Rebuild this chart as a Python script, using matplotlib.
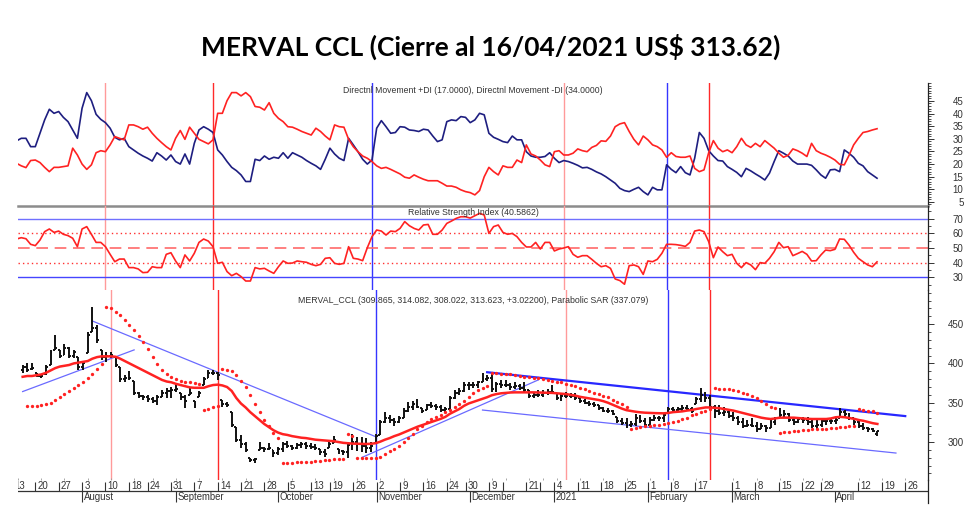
import numpy as np
import pandas as pd
import matplotlib
matplotlib.use("Agg")
import matplotlib.pyplot as plt
import matplotlib.transforms as mtrans
from matplotlib.collections import LineCollection
from matplotlib.ticker import MultipleLocator, FixedLocator

# ---------------- calendar (Argentine market trading days) ----------------
holidays = ["2020-08-17", "2020-10-12", "2020-11-23", "2020-12-07", "2020-12-08",
            "2020-12-24", "2020-12-25", "2020-12-31", "2021-01-01", "2021-02-15",
            "2021-02-16", "2021-03-24", "2021-04-01", "2021-04-02"]
trading_days = pd.bdate_range("2020-07-13", "2021-05-14", freq="C", holidays=holidays)
def day(d):
    return trading_days.get_loc(pd.Timestamp(d))

first_date = "2020-07-14"

# ---------------- price data (daily OHLC) ----------------
opens = [392, 395, 393, 388, 384, 386, 398, 417, 417, 411, 420, 410, 408, 395, 413, 440, 445, 417, 408, 410,
         408, 395, 380, 382, 378, 362, 358, 357, 355, 352, 357, 362, 365, 366, 362, 357, 360, 352, 357, 373,
         381, 388, 388, 353, 348, 338, 319, 303, 297, 280, 277, 290, 293, 291, 290, 286, 291, 297, 295, 293,
         296, 297, 295, 294, 291, 287, 292, 299, 291, 288, 287, 296, 300, 297, 295, 292, 299, 309, 325, 330,
         328, 326, 331, 340, 344, 349, 343, 341, 347, 346, 344, 341, 342, 356, 362, 365, 372, 372, 372, 376,
         380, 382, 368, 374, 373, 372, 370, 371, 369, 366, 359, 360, 360, 362, 364, 362, 356, 358, 359, 358,
         356, 352, 350, 348, 347, 343, 340, 339, 332, 327, 324, 322, 323, 330, 327, 322, 328, 330, 330, 337,
         342, 341, 342, 343, 342, 348, 355, 360, 356, 345, 340, 337, 338, 333, 331, 326, 321, 322, 321, 317,
         320, 318, 326, 330, 335, 336, 328, 326, 329, 328, 325, 321, 322, 327, 327, 327, 330, 338, 336, 330,
         325, 320, 318, 316, 309.865]
highs = [398, 400, 400, 388, 385, 398, 417, 436, 417, 425, 421, 417, 408, 402, 440, 472, 449, 417, 414, 414,
         408, 395, 385, 390, 378, 364, 360, 360, 357, 360, 366, 369, 370, 375, 362, 360, 369, 352, 365, 383,
         392, 392, 389, 353, 351, 338, 319, 309, 300, 280, 280, 300, 294, 299, 290, 294, 300, 301, 296, 299,
         300, 300, 299, 297, 291, 291, 300, 308, 291, 290, 300, 310, 306, 306, 305, 300, 310, 328, 338, 334,
         330, 333, 343, 351, 352, 355, 343, 349, 351, 349, 347, 345, 358, 366, 369, 376, 376, 376, 378, 388,
         385, 387, 376, 379, 379, 375, 376, 374, 376, 366, 364, 366, 366, 367, 373, 362, 361, 364, 362, 362,
         357, 355, 352, 351, 347, 345, 343, 341, 332, 330, 330, 327, 336, 334, 330, 332, 334, 333, 337, 345,
         345, 345, 347, 347, 345, 357, 369, 364, 360, 347, 347, 345, 341, 338, 333, 330, 328, 330, 325, 324,
         322, 328, 332, 343, 341, 337, 330, 332, 332, 332, 329, 328, 330, 330, 330, 330, 343, 341, 337, 330,
         327, 324, 319, 318, 314.082]
lows = [388, 389, 392, 383, 381, 385, 398, 417, 407, 411, 407, 407, 392, 392, 413, 440, 426, 404, 402, 407,
        395, 376, 376, 379, 360, 356, 353, 351, 350, 347, 357, 356, 356, 364, 353, 343, 360, 343, 357, 373,
        381, 385, 379, 345, 345, 319, 300, 292, 287, 275, 273, 290, 287, 290, 281, 283, 287, 292, 290, 291,
        292, 291, 291, 290, 283, 281, 292, 299, 285, 283, 280, 290, 289, 287, 286, 287, 299, 309, 324, 324,
        320, 324, 330, 338, 341, 343, 337, 341, 343, 341, 338, 337, 342, 355, 360, 364, 366, 369, 369, 376,
        378, 364, 364, 369, 370, 366, 367, 366, 364, 356, 356, 357, 357, 360, 362, 353, 352, 356, 356, 353,
        350, 348, 346, 345, 341, 338, 337, 334, 324, 322, 318, 319, 320, 324, 319, 322, 327, 327, 325, 337,
        338, 338, 339, 339, 337, 348, 351, 351, 343, 330, 334, 333, 330, 327, 322, 318, 319, 319, 313, 317,
        313, 318, 322, 330, 330, 325, 322, 324, 324, 322, 318, 317, 319, 322, 323, 323, 330, 332, 328, 322,
        318, 315, 313, 313, 308.022]
closes = [395, 392, 394, 384, 384, 396, 414, 420, 410, 420, 410, 414, 395, 400, 436, 445, 430, 408, 410, 411,
          398, 380, 382, 381, 362, 358, 357, 355, 352, 357, 362, 365, 366, 367, 357, 352, 362, 347, 363, 380,
          388, 388, 385, 348, 347, 322, 303, 297, 290, 277, 278, 293, 291, 293, 286, 291, 297, 295, 293, 296,
          297, 295, 294, 292, 287, 285, 297, 302, 288, 287, 296, 300, 297, 295, 292, 295, 308, 325, 330, 328,
          326, 331, 340, 344, 349, 345, 340, 347, 346, 344, 341, 342, 356, 362, 365, 372, 372, 372, 376, 380,
          382, 368, 374, 373, 372, 370, 371, 369, 366, 359, 360, 360, 362, 364, 364, 356, 358, 359, 358, 356,
          352, 350, 348, 347, 343, 340, 339, 336, 327, 324, 322, 323, 330, 327, 322, 328, 330, 330, 335, 342,
          341, 342, 343, 342, 340, 355, 360, 356, 345, 340, 337, 338, 333, 331, 326, 321, 322, 321, 316, 320,
          318, 326, 330, 335, 336, 328, 326, 329, 328, 325, 321, 322, 327, 327, 327, 328, 338, 336, 331, 325,
          320, 318, 316, 314, 313.623]
moving_avg = [383, 384, 384, 385, 386, 388, 391, 394, 396, 397, 398, 400, 401, 402, 403, 406, 408, 409, 409, 409,
              408.5, 406, 403, 400, 397, 394, 391, 388, 385, 382, 379, 377, 376, 374, 372.5, 371, 369.5, 369, 369, 369,
              371, 372.5, 373, 372, 370, 365, 356, 349, 344, 338, 333, 328, 323, 319, 315, 312, 310, 309, 307.5, 306.5,
              305.5, 305, 304, 303, 302.5, 302, 301.5, 301, 300, 299, 298.5, 298, 297.8, 297.5, 297.5, 297.8, 298.5, 300.5, 303, 305,
              307.5, 309.5, 312, 314.5, 317, 319.5, 321.5, 323.5, 325.5, 327.5, 329.5, 332, 336, 339, 342, 346, 349, 351, 353, 355,
              357, 359.5, 361, 362, 362.5, 363, 363.2, 363.2, 363.2, 363.2, 363.2, 363, 362.8, 362.7, 362.5, 362, 361.5, 361, 360, 359,
              357.5, 356.5, 355.5, 354.5, 353.5, 352, 350, 347.5, 345, 342.5, 340.5, 339.5, 338.5, 337.8, 337.3, 337, 336.8, 336.6, 336.5, 337,
              338, 338.5, 339, 340, 340.7, 342, 343, 344, 344, 343.5, 343, 342, 341, 340, 338.5, 337, 335.5, 334, 332.5, 331,
              330, 329.3, 330, 331, 331, 331, 331, 330.5, 330, 329.5, 329.3, 329.3, 329.3, 329.3, 330, 331.5, 332, 331.5, 330.5, 329.5,
              328, 327, 325.5, 324, 323]
nan = float("nan")
par_sar = [nan, 346, 346, 346, 347, 348, 350, 353, 357, 361, 365, 369, 373, 377, 381, 386, 393, 399, 472, 470,
           466, 461, 455, 449, 442, 435, 427, 418, 408, 399, 392, 387, 383, 380, 378, 377, 376, 375, 374, 341,
           342, 344, 346, 393, 392, 390, 385, 378, 370, 360, 348, 338, 328, 320, 312, 305, 273, 273, 273, 274,
           274, 275, 275, 276, 276, 277, 277, 278, 278, 279, 310, 308, 280, 280, 280, 280, 280, 281, 285, 288,
           291, 295, 300, 305, 310, 316, 321, 326, 329, 332, 335, 338, 341, 344, 348, 352, 357, 362, 366, 369,
           371, 388, 388, 387, 386, 386, 385, 384, 383, 383, 382, 381, 380, 379, 378, 377, 376, 374, 373, 371,
           369, 367, 365, 363, 361, 359, 357, 354, 351, 348, 345, 317, 318, 319, 320, 321, 322, 322, 323, 324,
           325, 327, 329, 331, 334, 336, 338, 340, 342, 369, 368, 368, 367, 366, 365, 363, 361, 359, 356, 352,
           348, 345, 343, 312, 313, 313, 314, 314, 315, 315, 316, 316, 317, 317, 318, 318, 319, 319, 320, 320,
           342, 341, 340, 339, 337.079]

# ---------------- indicators ----------------
plus_di = [29.2, 30.2, 30.2, 26.9, 26.9, 32.2, 37.5, 41.7, 40.1, 40.8, 38.5, 36.8, 33.5, 30.2, 42.1, 48.3, 45.1, 39.7, 37.7, 36.4,
           34.2, 30.6, 29.6, 30.2, 26.9, 25.6, 24.3, 23.2, 22.3, 21.2, 24.5, 23.2, 21.6, 23.6, 21.0, 20.0, 24.0, 20.0, 28.2, 33.5,
           34.8, 33.8, 32.5, 25.6, 23.6, 21.0, 18.7, 17.4, 15.7, 13.1, 13.1, 21.9, 21.4, 23.2, 21.9, 22.7, 22.3, 24.5, 22.3, 24.5,
           23.6, 22.7, 21.4, 20.3, 19.3, 17.9, 21.9, 26.3, 24.0, 22.3, 21.4, 30.2, 27.6, 24.9, 21.9, 20.0, 21.6, 34.2, 37.2, 34.8,
           32.2, 32.5, 34.8, 34.6, 33.5, 33.3, 32.9, 33.8, 33.5, 31.1, 28.9, 29.6, 36.8, 37.5, 37.2, 38.8, 38.5, 36.4, 37.5, 40.1,
           39.5, 32.2, 30.6, 29.8, 28.9, 28.5, 31.1, 29.6, 29.6, 24.9, 23.2, 22.7, 22.7, 23.0, 24.5, 22.3, 20.6, 21.4, 21.0, 20.3,
           19.5, 18.5, 18.7, 17.9, 16.9, 16.1, 15.0, 13.7, 12.4, 10.4, 9.5, 9.1, 10.0, 10.8, 9.1, 7.8, 10.8, 9.8, 9.8, 19.7,
           17.9, 16.6, 19.0, 16.6, 15.7, 22.3, 32.5, 30.2, 25.3, 23.2, 21.4, 21.2, 19.0, 17.9, 16.7, 15.0, 18.3, 17.3, 16.1, 15.0,
           13.7, 16.4, 21.0, 25.3, 24.3, 23.2, 21.2, 20.0, 20.0, 20.0, 19.5, 17.7, 15.7, 14.4, 17.7, 17.9, 17.0, 25.6, 24.3, 22.7,
           20.3, 19.3, 17.0, 15.7, 14.4]
minus_di = [20.3, 19.3, 18.6, 21.4, 21.6, 20.6, 18.7, 17.0, 18.7, 18.7, 19.0, 19.3, 26.3, 23.6, 20.0, 17.9, 19.7, 24.5, 25.3, 24.9,
            27.6, 30.9, 30.2, 29.6, 35.5, 35.5, 34.8, 33.8, 34.6, 32.2, 30.2, 28.5, 26.9, 25.6, 30.2, 33.3, 29.8, 34.6, 32.2, 29.8,
            28.9, 28.0, 29.6, 40.1, 40.1, 45.1, 48.3, 48.3, 47.0, 48.3, 46.7, 42.8, 42.5, 41.4, 44.3, 40.1, 38.1, 36.8, 34.8, 34.6,
            33.8, 32.9, 32.2, 31.5, 34.2, 32.9, 31.1, 29.6, 35.5, 34.8, 34.6, 29.8, 26.9, 24.9, 23.2, 22.3, 21.0, 19.3, 18.3, 18.7,
            17.9, 17.0, 16.1, 14.8, 14.4, 15.7, 14.8, 14.0, 13.4, 13.4, 13.4, 12.4, 11.3, 11.3, 10.8, 9.8, 9.1, 8.7, 7.8, 9.5,
            15.0, 18.7, 17.0, 15.7, 19.3, 18.7, 18.7, 21.6, 20.6, 27.6, 24.0, 23.2, 21.6, 19.7, 19.0, 24.9, 25.3, 23.6, 23.6, 24.3,
            26.0, 25.3, 24.9, 26.6, 27.4, 29.2, 29.0, 31.1, 34.8, 35.9, 36.4, 32.9, 29.8, 27.6, 31.1, 29.6, 27.6, 26.9, 25.6, 22.7,
            24.5, 23.0, 22.7, 22.7, 23.2, 18.3, 17.0, 17.7, 24.5, 29.3, 26.3, 24.9, 25.6, 24.5, 26.9, 30.2, 27.6, 26.6, 28.2, 26.9,
            29.3, 27.8, 26.3, 24.3, 22.7, 23.5, 26.0, 25.3, 24.3, 23.0, 28.2, 25.3, 24.3, 23.6, 22.7, 21.6, 19.9, 19.7, 23.4, 27.6,
            30.2, 32.5, 32.9, 33.5, 34.0]
rsi = [56.1, 57.0, 56.3, 52.5, 51.6, 55.4, 61.1, 62.9, 60.6, 61.5, 59.3, 58.4, 56.6, 50.9, 62.9, 64.5, 59.3, 53.8, 53.8, 50.9,
       45.7, 40.7, 42.5, 42.5, 36.7, 36.7, 35.8, 33.3, 33.5, 37.3, 36.7, 36.7, 45.7, 46.8, 41.2, 36.7, 45.3, 41.2, 46.4, 53.8,
       56.1, 54.7, 50.9, 39.6, 40.3, 34.0, 31.2, 32.8, 30.6, 27.6, 27.6, 36.7, 35.8, 36.2, 34.4, 32.8, 37.3, 41.2, 39.6, 39.8,
       41.2, 40.7, 40.3, 38.9, 38.0, 38.9, 43.0, 43.4, 39.6, 38.9, 39.6, 50.9, 43.0, 42.5, 41.4, 50.2, 57.7, 62.2, 61.5, 58.8,
       61.5, 61.1, 63.3, 67.9, 65.1, 63.3, 62.2, 65.6, 66.0, 59.3, 59.3, 62.2, 66.7, 68.3, 70.1, 71.2, 71.2, 70.3, 71.9, 73.5,
       72.4, 59.9, 64.5, 65.6, 60.6, 59.3, 59.9, 57.7, 53.8, 50.7, 50.7, 53.8, 49.3, 53.8, 53.8, 48.0, 49.3, 50.0, 50.9, 45.7,
       43.7, 44.8, 44.8, 42.3, 39.6, 37.3, 38.0, 36.2, 29.0, 27.9, 25.4, 38.0, 38.5, 37.3, 32.1, 41.2, 40.7, 42.3, 46.4, 52.5,
       52.5, 52.3, 51.8, 51.1, 53.8, 61.5, 62.2, 61.1, 54.3, 43.4, 50.7, 47.5, 44.8, 45.7, 39.6, 36.7, 40.1, 38.5, 35.3, 40.1,
       39.6, 43.0, 47.5, 53.8, 50.2, 50.9, 44.8, 46.2, 47.7, 45.7, 41.2, 41.4, 45.3, 48.6, 48.2, 49.1, 56.1, 55.9, 52.0, 47.1,
       43.0, 40.7, 38.5, 37.3, 40.6]

# ---------------- annotations ----------------
signal_pink = ["2020-08-10", "2021-01-06"]
signal_red = ["2020-09-11", "2021-02-22"]
signal_blue = ["2020-10-30", "2021-02-05"]
thin_trends = [(("2020-07-14", 364.2), ("2020-08-18", 417.2)),
               (("2020-08-04", 454.0), ("2020-10-30", 306.8)),
               (("2020-10-27", 280.3), ("2020-12-23", 379.0)),
               (("2020-12-03", 340.7), ("2021-04-22", 286.0))]
thick_trend = (("2020-12-04", 388.8), ("2021-04-26", 333.0))

week_dates = ["2020-07-13", "2020-07-20", "2020-07-27", "2020-08-03", "2020-08-10", "2020-08-18",
              "2020-08-24", "2020-08-31", "2020-09-07", "2020-09-14", "2020-09-21", "2020-09-28",
              "2020-10-05", "2020-10-13", "2020-10-19", "2020-10-26", "2020-11-02", "2020-11-09",
              "2020-11-16", "2020-11-24", "2020-11-30", "2020-12-09", "2020-12-14", "2020-12-21",
              "2020-12-28", "2021-01-04", "2021-01-11", "2021-01-18", "2021-01-25", "2021-02-01",
              "2021-02-08", "2021-02-17", "2021-03-01", "2021-03-08", "2021-03-15", "2021-03-22",
              "2021-03-29", "2021-04-12", "2021-04-19", "2021-04-26"]
week_labels = ["13", "20", "27", "3", "10", "18", "24", "31", "7", "14", "21", "28", "5", "13", "19", "26",
               "2", "9", "16", "24", "30", "9", "", "21", "", "4", "11", "18", "25", "1", "8", "17",
               "1", "8", "15", "22", "29", "12", "19", "26"]
month_dates = ["2020-08-03", "2020-09-01", "2020-10-01", "2020-11-02", "2020-12-01", "2021-01-04",
               "2021-02-01", "2021-03-01", "2021-04-05"]
month_labels = ["August", "September", "October", "November", "December", "2021",
                "February", "March", "April"]

title = "MERVAL CCL (Cierre al 16/04/2021 US$ 313.62)"
dmi_title = "Directnl Movement +DI (17.0000), Directnl Movement -DI (34.0000)"
rsi_title = "Relative Strength Index (40.5862)"
px_title = "MERVAL_CCL (309.865, 314.082, 308.022, 313.623, +3.02200), Parabolic SAR (337.079)"

# ---------------- figure ----------------
W, H = 980, 523
fig = plt.figure(figsize=(W / 100, H / 100), dpi=100)
fig.patch.set_facecolor("white")
SMALL = ["Liberation Sans", "DejaVu Sans"]
TXT = "#333333"

def axes_px(x0, y0, x1, y1):
    return fig.add_axes([x0 / W, 1 - y1 / H, (x1 - x0) / W, (y1 - y0) / H])

L, R = 18, 928
ax_dmi = axes_px(L, 83, R, 206)
ax_rsi = axes_px(L, 206, R, 290)
ax_px = axes_px(L, 290, R, 480)
ax_x = axes_px(L, 480, R, 503)

x0 = day(first_date)
xs = np.arange(x0, x0 + len(closes))
xlim = (x0 + 0.3, day("2021-04-30") + 0.9)

RED = "#ff2222"
for ax in (ax_dmi, ax_rsi, ax_px, ax_x):
    ax.set_xlim(*xlim)
    for s in ("top", "left", "bottom"):
        ax.spines[s].set_visible(False)
    ax.spines["right"].set_color("#222222")
    ax.spines["right"].set_linewidth(0.9)
    ax.set_facecolor("none")

def style_y(ax, lo, hi, major, minor):
    ax.set_ylim(lo, hi)
    ax.yaxis.tick_right()
    ax.yaxis.set_major_locator(FixedLocator(major))
    ax.yaxis.set_minor_locator(MultipleLocator(minor))
    ax.tick_params(axis="y", which="major", length=4.3, width=0.7, color="#333333",
                   pad=21.3, labelsize=7, labelcolor=TXT)
    ax.tick_params(axis="y", which="minor", length=2.2, width=0.6, color="#333333")
    for lab in ax.get_yticklabels():
        lab.set_horizontalalignment("right")
        lab.set_family(SMALL)
    ax.tick_params(axis="x", which="both", bottom=False, labelbottom=False)

style_y(ax_dmi, 3.4, 52.1, [5, 10, 15, 20, 25, 30, 35, 40, 45], 1)
style_y(ax_rsi, 21.5, 78.5, [30, 40, 50, 60, 70], 5)
style_y(ax_px, 251.7, 493.4, [300, 350, 400, 450], 10)

# separator between DMI and RSI
ax_dmi.spines["bottom"].set_visible(True)
ax_dmi.spines["bottom"].set_color("#8c8c8c")
ax_dmi.spines["bottom"].set_linewidth(1.8)

# signal lines
for ax in (ax_dmi, ax_rsi, ax_px):
    for d in signal_pink:
        ax.axvline(day(d), color="#ff9a9a", lw=1.0, zorder=1)
    for d in signal_red:
        ax.axvline(day(d), color="#ff2a2a", lw=1.0, zorder=1)
    for d in signal_blue:
        ax.axvline(day(d), color="#3535ff", lw=1.0, zorder=1)

# DMI
ax_dmi.plot(xs, plus_di, color="#1e1e80", lw=1.2, zorder=3)
ax_dmi.plot(xs, minus_di, color=RED, lw=1.2, zorder=3)
ax_dmi.text(0.5, 0.943, dmi_title, transform=ax_dmi.transAxes, ha="center", va="center",
            fontsize=6.2, color=TXT, family=SMALL)

# RSI
ax_rsi.axhline(70, color="#7070ff", lw=1.0, zorder=1)
ax_rsi.axhline(30, color="#4545ff", lw=1.0, zorder=1)
ax_rsi.axhline(60, color="#ff3030", lw=1.0, ls=(0, (1, 2.2)), zorder=1)
ax_rsi.axhline(40, color="#ff3030", lw=1.0, ls=(0, (1, 2.2)), zorder=1)
ax_rsi.axhline(50, color="#ff6a6a", lw=1.2, ls=(0, (7, 4)), zorder=1)
ax_rsi.plot(xs, rsi, color=RED, lw=1.2, zorder=3)
ax_rsi.text(0.5, 0.917, rsi_title, transform=ax_rsi.transAxes, ha="center", va="center",
            fontsize=6.3, color=TXT, family=SMALL)

# price panel
ax_px.set_xticks([day(d) for d in week_dates])
ax_px.tick_params(axis="x", which="major", bottom=True, direction="in", length=1.5,
                  width=0.6, color="#999999", labelbottom=False)
for (d0, v0), (d1, v1) in thin_trends:
    ax_px.plot([day(d0), day(d1)], [v0, v1], color="#6a6aff", lw=0.9, zorder=2)
(d0, v0), (d1, v1) = thick_trend
ax_px.plot([day(d0), day(d1)], [v0, v1], color="#2828ff", lw=1.6, zorder=2)

segs = []
tk = 0.42
for x, o, h, l, c in zip(xs, opens, highs, lows, closes):
    segs.append([(x, l), (x, h)])
    segs.append([(x - tk, o), (x, o)])
    segs.append([(x, c), (x + tk, c)])
ax_px.add_collection(LineCollection(segs, colors="#111111", linewidths=1.4, zorder=4))
ax_px.plot(xs, moving_avg, color=RED, lw=1.8, zorder=5)
ax_px.plot(xs, par_sar, ls="none", marker="o", ms=2.4, mfc=RED, mec="none", zorder=5)
ax_px.text(0.5, 0.947, px_title, transform=ax_px.transAxes, ha="center", va="center",
           fontsize=6.3, color=TXT, family=SMALL)

# date strip
ax_x.set_ylim(503, 480)
ax_x.set_yticks([])
ax_x.set_xticks([])
ax_x.axhline(491, color="#333333", lw=0.9)
wk = [day(d) for d in week_dates]
ax_x.vlines(wk, 482, 491, color="#333333", lw=0.8)
off_day = mtrans.offset_copy(ax_x.transData, fig=fig, x=2.2, y=0, units="dots")
for x, lab in zip(wk, week_labels):
    ax_x.text(x, 486.2, lab, transform=off_day, ha="left", va="center", fontsize=6.9,
              color=TXT, family=SMALL, clip_on=True)
mo = [day(d) for d in month_dates]
ax_x.vlines(mo, 491, 502, color="#333333", lw=0.8)
off_mo = mtrans.offset_copy(ax_x.transData, fig=fig, x=1.5, y=0, units="dots")
for x, lab in zip(mo, month_labels):
    ax_x.text(x, 497, lab, transform=off_mo, ha="left", va="center", fontsize=6.9,
              color=TXT, family=SMALL, clip_on=True)

fig.text(491 / W, 1 - 47 / H, title, ha="center", va="center", fontsize=19,
         fontweight="bold", family=["Lato", "DejaVu Sans"], color="#000000")

fig.savefig("out.png", dpi=100, facecolor="white")
